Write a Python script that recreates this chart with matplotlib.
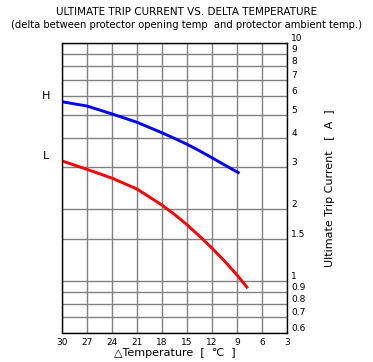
import numpy as np
import matplotlib.pyplot as plt
from matplotlib.ticker import FixedLocator, FixedFormatter, NullLocator

temp_h = [30, 27, 24, 21, 18, 16.5, 15, 13.5, 12, 10.5, 8.7]
current_h = [5.66, 5.43, 5.03, 4.64, 4.19, 3.97, 3.75, 3.52, 3.29, 3.07, 2.83]
temp_l = [30, 27, 24, 21, 18, 16.5, 15, 13.5, 12, 10.5, 9, 7.7]
current_l = [3.19, 2.94, 2.70, 2.43, 2.08, 1.90, 1.72, 1.54, 1.37, 1.21, 1.057, 0.929]

x_ticks = [30, 27, 24, 21, 18, 15, 12, 9, 6, 3]
y_ticks = [0.6, 0.7, 0.8, 0.9, 1, 1.5, 2, 3, 4, 5, 6, 7, 8, 9, 10]
y_labels = ["0.6", "0.7", "0.8", "0.9", "1", "1.5", "2", "3", "4", "5", "6", "7", "8", "9", "10"]

fig = plt.figure(figsize=(3.73, 3.62), dpi=100)
ax = fig.add_axes([0.1662, 0.079, 0.6032, 0.8022])

ax.plot(temp_h, current_h, color="#0000ff", linewidth=2.1, solid_capstyle="butt")
ax.plot(temp_l, current_l, color="#ff0000", linewidth=2.1, solid_capstyle="butt")

ax.set_yscale("log")
ax.set_xlim(30, 3)
ax.set_ylim(0.6, 10)

ax.xaxis.set_major_locator(FixedLocator(x_ticks))
ax.yaxis.set_major_locator(FixedLocator(y_ticks))
ax.yaxis.set_major_formatter(FixedFormatter(y_labels))
ax.yaxis.set_minor_locator(NullLocator())
ax.yaxis.tick_right()
ax.yaxis.set_label_position("right")
ax.tick_params(axis="both", length=0, labelsize=6.5, colors="black")
ax.tick_params(axis="y", pad=3)
ax.tick_params(axis="x", pad=3)
for lbl in ax.get_yticklabels():
    lbl.set_verticalalignment("bottom")

ax.grid(True, color="#808080", linewidth=1.0)
ax.set_axisbelow(True)
for sp in ax.spines.values():
    sp.set_color("black")
    sp.set_linewidth(1.0)

ax.set_xlabel("△Temperature  [  ℃  ]", fontsize=8, labelpad=1)
ax.set_ylabel("Ultimate Trip Current   [  A  ]", fontsize=8, labelpad=14)

fig.text(0.5, 0.966, "ULTIMATE TRIP CURRENT VS. DELTA TEMPERATURE",
         ha="center", va="center", fontsize=7.5)
fig.text(0.5, 0.93, "(delta between protector opening temp  and protector ambient temp.)",
         ha="center", va="center", fontsize=7.2)

ax.text(-0.07, 5.7, "H", transform=ax.get_yaxis_transform(), ha="center", va="bottom", fontsize=8)
ax.text(-0.07, 3.2, "L", transform=ax.get_yaxis_transform(), ha="center", va="bottom", fontsize=8)

fig.savefig("out.png", dpi=100)
